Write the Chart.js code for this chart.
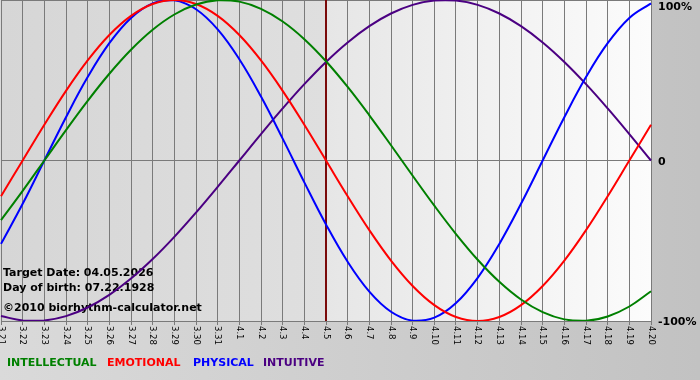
<!DOCTYPE html>
<html>
<head>
<meta charset="utf-8">
<script src="https://cdn.jsdelivr.net/npm/chart.js@4/dist/chart.umd.min.js"></script>
<style>
html,body{margin:0;padding:0;background:#c8c8c8;}
canvas{display:block;}
</style>
</head>
<body>
<canvas id="c" width="700" height="380"></canvas>
<script>
// ---- data ----
const dayLabels = ['3.21','3.22','3.23','3.24','3.25','3.26','3.27','3.28','3.29','3.30','3.31',
  '4.1','4.2','4.3','4.4','4.5','4.6','4.7','4.8','4.9','4.10','4.11','4.12','4.13','4.14','4.15','4.16','4.17','4.18','4.19','4.20'];
const intellectual = [-0.3717,-0.1893,0,0.1893,0.3717,0.5406,0.6901,0.8146,0.9096,0.9718,0.9989,0.9898,0.9450,0.8660,0.7557,0.6182,0.4582,0.2817,0.0951,-0.0951,-0.2817,-0.4582,-0.6182,-0.7557,-0.8660,-0.9450,-0.9898,-0.9989,-0.9718,-0.9096,-0.8146];
const emotional = [-0.2225,0,0.2225,0.4339,0.6235,0.7818,0.9010,0.9749,1,0.9749,0.9010,0.7818,0.6235,0.4339,0.2225,0,-0.2225,-0.4339,-0.6235,-0.7818,-0.9010,-0.9749,-1,-0.9749,-0.9010,-0.7818,-0.6235,-0.4339,-0.2225,0,0.2225];
const physical = [-0.5196,-0.2698,0,0.2698,0.5196,0.7308,0.8879,0.9791,0.9977,0.9423,0.8170,0.6311,0.3984,0.1362,-0.1362,-0.3984,-0.6311,-0.8170,-0.9423,-0.9977,-0.9791,-0.8879,-0.7308,-0.5196,-0.2698,0,0.2698,0.5196,0.7308,0.8879,0.9791];
const intuitive = [-0.9694,-0.9966,-0.9966,-0.9694,-0.9158,-0.8372,-0.7357,-0.6142,-0.4759,-0.3247,-0.1646,0,0.1646,0.3247,0.4759,0.6142,0.7357,0.8372,0.9158,0.9694,0.9966,0.9966,0.9694,0.9158,0.8372,0.7357,0.6142,0.4759,0.3247,0.1646,0];
const seriesNames = ['INTELLECTUAL','EMOTIONAL','PHYSICAL','INTUITIVE'];
const yTickValues = [1,0,-1];
const yTickLabels = ['100%','0','-100%'];
const targetDay = '4.5';
const infoLines = ['Target Date: 04.05.2026','Day of birth: 07.22.1928','\u00A92010 biorhythm-calculator.net'];

// ---- styles ----
const colors = ['#008000','#ff0000','#0000ff','#4b0082'];
const legendX = [7,107,193,263];
const BOLD = 'bold 11px "DejaVu Sans"';

const deco = {
  id:'deco',
  beforeDraw(chart){
    const ctx = chart.ctx, a = chart.chartArea;
    ctx.save();
    let g = ctx.createLinearGradient(0,0,700,0);
    g.addColorStop(0,'#dadada'); g.addColorStop(1,'#c2c2c2');
    ctx.fillStyle = g; ctx.fillRect(0,0,700,380);
    const tx = chart.scales.x.getPixelForValue(dayLabels.indexOf(targetDay));
    g = ctx.createLinearGradient(a.left,0,tx,0);
    g.addColorStop(0,'#d6d6d6'); g.addColorStop(1,'#dfdfdf');
    ctx.fillStyle = g; ctx.fillRect(a.left,a.top,tx-a.left,a.bottom-a.top);
    g = ctx.createLinearGradient(tx,0,a.right,0);
    g.addColorStop(0,'#e6e6e6'); g.addColorStop(1,'#fcfcfc');
    ctx.fillStyle = g; ctx.fillRect(tx,a.top,a.right-tx,a.bottom-a.top);
    ctx.restore();
  },
  beforeDatasetsDraw(chart){
    const ctx = chart.ctx, a = chart.chartArea;
    const tx = chart.scales.x.getPixelForValue(dayLabels.indexOf(targetDay));
    ctx.save();
    ctx.strokeStyle = '#7a0a0a'; ctx.lineWidth = 2;
    ctx.beginPath(); ctx.moveTo(Math.round(tx), a.top); ctx.lineTo(Math.round(tx), a.bottom); ctx.stroke();
    ctx.fillStyle = '#000'; ctx.font = BOLD; ctx.textBaseline = 'alphabetic'; ctx.textAlign = 'left';
    const ys = [276,291,311];
    infoLines.forEach((t,i)=>ctx.fillText(t,3,ys[i]));
    ctx.restore();
  },
  afterDraw(chart){
    const ctx = chart.ctx, a = chart.chartArea;
    const xs = chart.scales.x, ysc = chart.scales.y;
    ctx.save();
    // x labels, rotated clockwise
    ctx.fillStyle = '#000'; ctx.font = '8.5px "DejaVu Sans"';
    ctx.textAlign = 'left'; ctx.textBaseline = 'middle';
    dayLabels.forEach((lab,i)=>{
      const x = xs.getPixelForValue(i);
      ctx.save(); ctx.translate(x, a.bottom+5); ctx.rotate(Math.PI/2);
      ctx.fillText(lab,0,0); ctx.restore();
    });
    // y labels on right
    ctx.font = BOLD; ctx.textBaseline = 'middle';
    yTickValues.forEach((v,i)=>{
      const y = ysc.getPixelForValue(v);
      const ty = Math.max(7, Math.min(323, y+1.5));
      ctx.fillText(yTickLabels[i], 658, ty);
    });
    // legend
    ctx.textBaseline = 'alphabetic';
    chart.data.datasets.forEach((ds,i)=>{
      ctx.fillStyle = ds.borderColor;
      ctx.fillText(ds.label, legendX[i], 366);
    });
    ctx.restore();
  }
};

const mk = (i,data)=>({label:seriesNames[i],data,borderColor:colors[i],backgroundColor:colors[i],borderWidth:2,pointRadius:0,tension:0.4,fill:false});

new Chart(document.getElementById('c'),{
  type:'line',
  data:{labels:dayLabels,datasets:[mk(0,intellectual),mk(1,emotional),mk(2,physical),mk(3,intuitive)]},
  options:{
    responsive:false,animation:false,
    layout:{padding:{left:1,top:0,right:0,bottom:0}},
    plugins:{legend:{display:false},tooltip:{enabled:false}},
    scales:{
      x:{type:'category',offset:false,
        grid:{color:'#7a7a7a',lineWidth:1,drawTicks:true,tickLength:4,tickColor:'#7a7a7a'},
        border:{display:true,color:'#7a7a7a'},
        ticks:{display:false},
        afterFit(s){s.height=59;}},
      y:{position:'right',min:-1,max:1,
        grid:{color:'#7a7a7a',lineWidth:1,drawTicks:false},
        border:{display:true,color:'#7a7a7a'},
        ticks:{display:false,stepSize:1},
        afterFit(s){s.width=49;}}
    }
  },
  plugins:[deco]
});
</script>
</body>
</html>
